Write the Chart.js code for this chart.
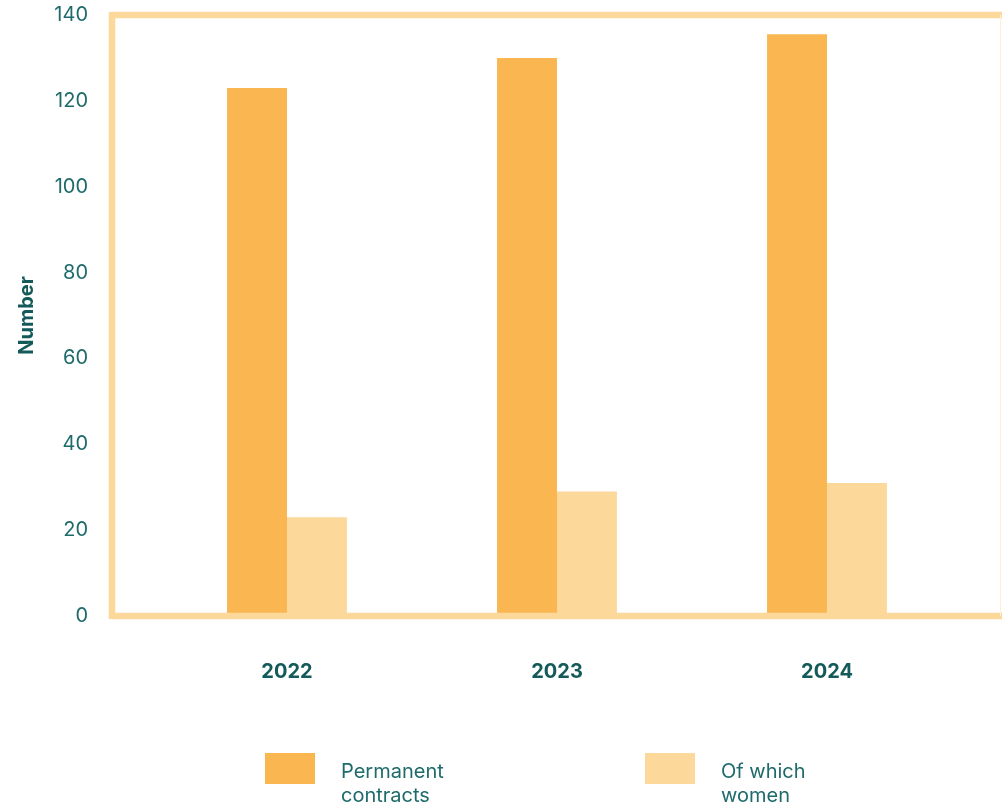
<!DOCTYPE html>
<html>
<head>
<meta charset="utf-8">
<script src="https://cdn.jsdelivr.net/npm/chart.js@4"></script>
<style>
  html, body { margin: 0; padding: 0; background: #fff; }
  #wrap { position: relative; width: 1002px; height: 812px; }
</style>
</head>
<body>
<div id="wrap"><canvas id="chart" width="1002" height="812"></canvas></div>
<script>
// data
const years = ['2022', '2023', '2024'];
const permanent = [123, 130, 135.5];
const women = [23, 29, 31];
const seriesNames = ['Permanent\ncontracts', 'Of which\nwomen'];
const yTicks = [0, 20, 40, 60, 80, 100, 120, 140];

const teal = '#1f6b6b';
const darkTeal = '#155a5a';
const orange = '#f9b651';
const lightOrange = '#fdd89b';
const font = "'Inter', 'Noto Sans', sans-serif";

// frame around the plot (top, left, bottom lines)
const framePlugin = {
    id: 'frame',
    afterDatasetsDraw(chart) {
        const a = chart.chartArea;
        const ctx = chart.ctx;
        ctx.save();
        ctx.strokeStyle = lightOrange;
        ctx.lineWidth = 6.5;
        ctx.beginPath();
        ctx.moveTo(a.left - 40, a.top);
        ctx.lineTo(chart.width, a.top);
        ctx.moveTo(a.left - 40, a.top - 3);
        ctx.lineTo(a.left - 40, a.bottom + 3);
        ctx.moveTo(a.left - 40, a.bottom);
        ctx.lineTo(chart.width, a.bottom);
        ctx.stroke();
        ctx.lineWidth = 1;
        ctx.strokeStyle = '#fdf0d8';
        ctx.beginPath();
        ctx.moveTo(chart.width - 1.5, a.top);
        ctx.lineTo(chart.width - 1.5, a.bottom);
        ctx.stroke();
        ctx.restore();
    }
};

// legend with two-line labels
const legendPlugin = {
    id: 'boxLegend',
    afterDraw(chart) {
        const ctx = chart.ctx;
        const xs = [265, 645];
        ctx.save();
        chart.data.datasets.forEach((ds, i) => {
            ctx.fillStyle = ds.backgroundColor;
            ctx.fillRect(xs[i], 753, 50, 31);
            ctx.fillStyle = teal;
            ctx.font = '20px ' + font;
            ctx.textBaseline = 'middle';
            ds.label.split('\n').forEach((line, j) => {
                ctx.fillText(line, xs[i] + 76, 772 + j * 24);
            });
        });
        ctx.restore();
    }
};

new Chart(document.getElementById('chart'), {
    type: 'bar',
    data: {
        labels: years,
        datasets: [
            { label: seriesNames[0], data: permanent, backgroundColor: orange },
            { label: seriesNames[1], data: women, backgroundColor: lightOrange }
        ]
    },
    options: {
        responsive: false,
        animation: false,
        layout: { padding: { top: 15, right: 40, left: 0, bottom: 0 } },
        categoryPercentage: 0.444,
        barPercentage: 1,
        plugins: {
            legend: { display: false },
            tooltip: { enabled: false }
        },
        scales: {
            x: {
                grid: { display: false, drawTicks: false },
                border: { display: false },
                ticks: {
                    color: darkTeal,
                    padding: 44,
                    font: { family: font, size: 20, weight: 'bold' }
                },
                afterFit(scale) {
                    scale.height = 196;
                    scale.paddingLeft = 0;
                    scale.paddingRight = 0;
                }
            },
            y: {
                min: 0,
                max: 140,
                afterBuildTicks(scale) { scale.ticks = yTicks.map(v => ({ value: v })); },
                grid: { display: false, drawTicks: false },
                border: { display: false },
                ticks: {
                    color: teal,
                    padding: 64,
                    font: { family: font, size: 20 }
                },
                title: {
                    display: true,
                    text: 'Number',
                    color: darkTeal,
                    padding: { top: 15, bottom: 0 },
                    font: { family: font, size: 20, weight: 'bold' }
                },
                afterFit(scale) {
                    scale.width = 152;
                    scale.paddingTop = 0;
                    scale.paddingBottom = 0;
                }
            }
        }
    },
    plugins: [framePlugin, legendPlugin]
});
</script>
</body>
</html>
